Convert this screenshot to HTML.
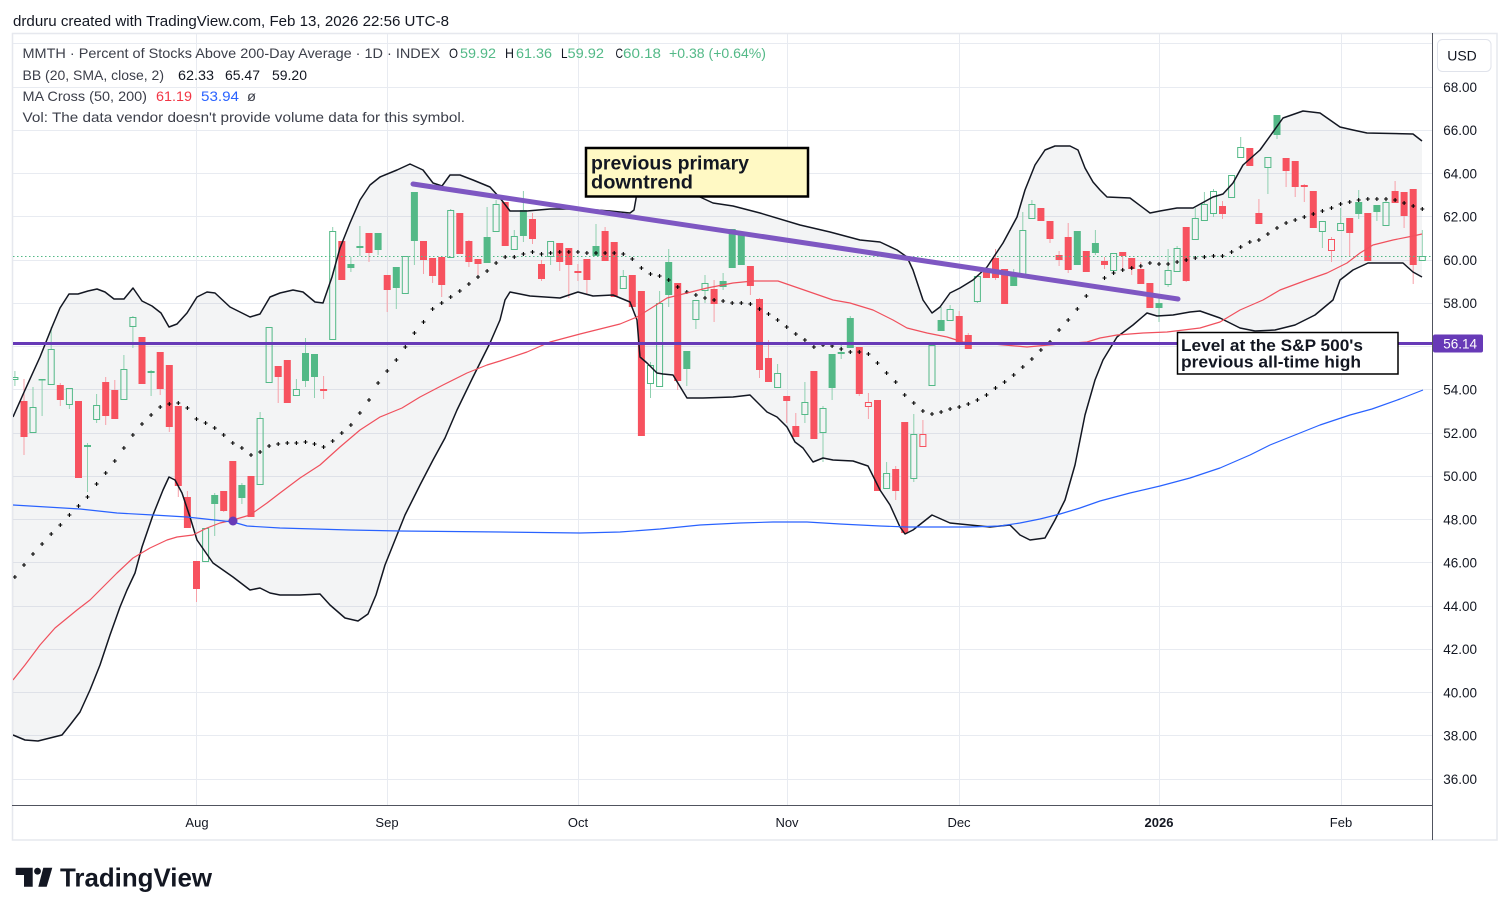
<!DOCTYPE html>
<html><head><meta charset="utf-8">
<style>
html,body{margin:0;padding:0;background:#fff;width:1510px;height:915px;overflow:hidden}
svg{display:block}
text{font-family:"Liberation Sans",Arial,sans-serif}
</style></head>
<body>
<svg width="1510" height="915" viewBox="0 0 1510 915" xmlns="http://www.w3.org/2000/svg">
<rect width="1510" height="915" fill="#fff"/>
<text x="13" y="26" font-size="15" fill="#131722" textLength="436" lengthAdjust="spacingAndGlyphs">drduru created with TradingView.com, Feb 13, 2026 22:56 UTC-8</text>
<rect x="12.5" y="33.5" width="1484.5" height="806.5" fill="none" stroke="#e6e8ee" stroke-width="1.5"/>
<defs><clipPath id="pc"><rect x="13" y="34" width="1419.5" height="771"/></clipPath></defs>
<g clip-path="url(#pc)">
<g stroke="#e8ebf1" stroke-width="1">
<path d="M13 43.5H1432M13 87.5H1432M13 130.5H1432M13 173.5H1432M13 216.5H1432M13 260.5H1432M13 303.5H1432M13 346.5H1432M13 389.5H1432M13 433.5H1432M13 476.5H1432M13 519.5H1432M13 562.5H1432M13 606.5H1432M13 649.5H1432M13 692.5H1432M13 735.5H1432M13 779.5H1432"/>
<path d="M196.5 34V805M387.5 34V805M578.5 34V805M787.5 34V805M959.5 34V805M1159.5 34V805M1341.5 34V805"/>
</g>
<path fill="rgba(120,123,134,0.085)" d="M13 417 L25 390 L40 357 L52 327 L60 308 L69 294 L78 294 L88 291 L97 289 L105 292 L114 299 L124 299 L133 288 L142 301 L152 306 L161 313 L169 327 L177 324 L187 313 L197 297 L207 292 L215 293 L230 307 L250 317 L260 314 L270 297 L280 293 L293 290 L303 292 L315 302 L323 303 L332 277 L340 248 L350 223 L360 200 L370 185 L380 177 L397 170 L410 164 L423 170 L433 183 L442 186 L450 175 L460 175 L473 180 L490 187 L500 198 L510 211 L527 211 L550 209 L583 209 L610 211 L630 213 L634 210 L637 193 L645 170 L660 160 L680 170 L700 197 L713 203 L733 206 L760 213 L800 225 L830 232 L860 240 L880 242 L897 250 L907 257 L913 270 L923 300 L932 313 L940 307 L950 293 L960 288 L973 280 L987 267 L1003 243 L1017 217 L1025 190 L1035 165 L1045 150 L1055 146 L1070 146 L1078 150 L1085 168 L1093 182 L1100 190 L1107 197 L1130 198 L1150 213 L1160 211 L1177 208 L1193 208 L1213 197 L1223 194 L1233 183 L1243 165 L1260 150 L1273 132 L1283 118 L1303 111 L1320 113 L1340 127 L1353 130 L1367 133 L1413 134 L1422 141 L1422 277 L1413 272 L1403 263 L1368 263 L1353 270 L1340 280 L1333 300 L1315 315 L1295 325 L1275 330 L1255 331 L1240 328 L1220 318 L1200 311 L1190 312 L1173 315 L1157 316 L1147 313 L1133 325 L1117 337 L1103 360 L1095 380 L1085 415 L1075 465 L1065 500 L1055 520 L1045 538 L1030 540 L1020 535 L1010 525 L990 527 L970 525 L950 523 L932 515 L913 530 L905 534 L900 527 L890 505 L880 490 L868 466 L853 461 L833 460 L823 458 L813 462 L803 448 L795 442 L787 427 L777 417 L767 412 L750 395 L733 397 L703 398 L687 398 L673 375 L663 374 L657 373 L647 363 L640 357 L637 320 L630 302 L613 295 L593 296 L578 292 L560 298 L530 296 L510 292 L505 300 L500 320 L490 343 L473 377 L457 410 L445 438 L433 460 L420 485 L405 515 L395 540 L385 565 L376 595 L368 614 L358 621 L345 618 L330 605 L320 594 L300 595 L280 595 L270 593 L260 588 L250 590 L233 577 L213 563 L197 540 L190 517 L182 493 L175 480 L169 477 L163 490 L153 515 L142 547 L135 573 L127 590 L120 607 L110 635 L100 665 L90 690 L80 712 L70 725 L62 735 L50 738 L38 741 L25 740 L13 735 Z"/>
<path fill="none" stroke="#f7a0a8" stroke-width="1" d="M24 379V455M60.3 383V406M78.5 401V478M105.7 377V425M114.8 380V419M142 337V384M160.2 352V395M169.3 365V432M178.3 406V497M187.4 491V528M196.5 561V602M223.7 491V512M232.8 461V519M251 476V517M278.2 366V403M287.3 360V403M341.8 241V280M369 233V262M387.2 275V312M423.5 241V274M432.6 258V283M441.7 257V297M459.8 213V254M468.9 240V267M478 259V278M505.2 202V246M532.5 213V244M541.5 260V281M559.7 243V271M568.8 248V298M586.9 259V294M605.1 227V261M614.2 242V297M632.3 275V307M641.4 291V436M677.7 283V390M714.1 280V322M750.4 266V295M759.5 298V378M768.5 340V382M786.7 396V423M795.8 413V437M813.9 371V439M859.3 347V396M877.5 400V491M895.7 466V500M904.7 422V533M959.2 311V342M968.3 333V349M986.5 269V278M995.5 249V280M1004.6 269V304M1040.9 208V221M1050 221V243M1059.1 251V266M1068.2 223V273M1086.3 251V272M1104.5 257V269M1122.7 252V270M1131.7 258V275M1140.8 262V284M1149.9 283V308M1186.2 227V282M1222.5 201V219M1249.8 148V166M1258.9 199V224M1286.1 158V187M1295.2 161V197M1304.3 184V202M1313.3 191V228M1349.7 218V257M1367.8 213V261M1395.1 181V203M1404.1 192V228M1413.2 189V284M323.6 376V389M323.6 391V399M577.9 264V271M577.9 273V281M868.4 393V402M868.4 407V419M922.9 420V434M1331.5 237V239M1331.5 251V262"/>
<path fill="none" stroke="#8fd0b0" stroke-width="1" d="M87.5 443V492M151.1 370V396M214.7 493V536M241.9 483V504M305.5 338V387M314.5 354V398M350.9 257V272M378.1 233V255M396.3 267V309M414.4 192V265M487.1 207V263M523.4 191V242M596 224V256M668.7 249V307M686.8 351V386M723.1 273V290M832.1 354V400M850.3 316V348M941.1 307V331M1013.7 269V286M1095.4 230V255M1159 298V322M1277 115V139M1358.7 190V219M1376.9 205V221M14.9 371V377M14.9 380V386M33 387V407M42.1 380V416M51.2 327V349M69.4 405V409M96.6 394V405M96.6 420V423M123.9 355V369M132.9 316V317M132.9 327V348M260.1 412V418M296.4 379V389M332.7 227V231M359.9 226V246M359.9 248V256M450.7 209V210M496.1 200V204M514.3 230V236M550.6 257V265M623.3 270V276M650.5 362V365M650.5 384V398M659.6 291V303M695.9 320V329M705 275V283M705 291V303M777.6 364V373M804.9 382V402M804.9 415V423M823 406V408M823 433V462M841.2 343V352M841.2 354V359M886.6 462V473M913.8 414V434M913.8 479V482M932 344V345M950.1 305V309M977.4 302V303M1022.8 212V230M1031.9 200V204M1168.1 249V270M1168.1 285V287M1177.1 246V248M1195.3 208V218M1204.4 192V204M1213.5 189V191M1213.5 214V217M1240.7 137V147M1267.9 168V194M1322.4 232V248M1340.6 208V223M1386 197V202M1422.3 230V256"/>
<path fill="#f7525f" d="M20.5 401h7v36h-7zM56.8 385h7v15h-7zM75 401h7v77h-7zM102.2 382h7v34h-7zM111.3 390h7v29h-7zM138.5 337h7v47h-7zM156.7 352h7v37h-7zM165.8 365h7v62h-7zM174.8 406h7v80h-7zM183.9 497h7v31h-7zM193 561h7v28h-7zM220.2 491h7v20h-7zM229.3 461h7v58h-7zM247.5 476h7v41h-7zM274.7 366h7v11h-7zM283.8 360h7v43h-7zM338.3 241h7v39h-7zM365.5 233h7v20h-7zM383.7 275h7v15h-7zM420 241h7v19h-7zM429.1 258h7v18h-7zM438.2 257h7v28h-7zM456.3 213h7v41h-7zM465.4 241h7v21h-7zM474.5 259h7v5h-7zM501.7 202h7v44h-7zM529 219h7v20h-7zM538 264h7v15h-7zM556.2 243h7v19h-7zM565.3 248h7v17h-7zM583.4 259h7v21h-7zM601.6 231h7v30h-7zM610.7 242h7v55h-7zM628.8 275h7v32h-7zM637.9 291h7v145h-7zM674.2 283h7v98h-7zM710.6 289h7v15h-7zM746.9 266h7v20h-7zM756 299h7v71h-7zM765 358h7v24h-7zM783.2 396h7v5h-7zM792.3 426h7v11h-7zM810.4 371h7v68h-7zM855.8 347h7v47h-7zM874 400h7v91h-7zM892.2 469h7v22h-7zM901.2 422h7v111h-7zM955.7 316h7v26h-7zM964.8 335h7v14h-7zM983 269h7v9h-7zM992 258h7v20h-7zM1001.1 269h7v35h-7zM1037.4 208h7v13h-7zM1046.5 221h7v18h-7zM1055.6 255h7v5h-7zM1064.7 237h7v33h-7zM1082.8 251h7v21h-7zM1101 261h7v4h-7zM1119.2 252h7v4h-7zM1128.2 258h7v11h-7zM1137.3 269h7v15h-7zM1146.4 283h7v25h-7zM1182.7 227h7v54h-7zM1219 206h7v8h-7zM1246.3 148h7v18h-7zM1255.4 213h7v11h-7zM1282.6 158h7v13h-7zM1291.7 161h7v26h-7zM1300.8 185h7v2h-7zM1309.8 191h7v37h-7zM1346.2 218h7v15h-7zM1364.3 213h7v48h-7zM1391.6 191h7v12h-7zM1400.6 192h7v24h-7zM1409.7 189h7v76h-7z"/>
<path fill="#53b987" d="M84 445h7v2h-7zM147.6 371h7v2h-7zM211.2 495h7v9h-7zM238.4 485h7v13h-7zM302 353h7v28h-7zM311 354h7v23h-7zM347.4 264h7v4h-7zM374.6 233h7v17h-7zM392.8 267h7v21h-7zM410.9 192h7v49h-7zM483.6 237h7v26h-7zM519.9 210h7v26h-7zM592.5 246h7v10h-7zM665.2 262h7v33h-7zM683.3 351h7v18h-7zM719.6 281h7v6h-7zM728.7 229h7v39h-7zM737.8 235h7v30h-7zM828.6 354h7v34h-7zM846.8 318h7v30h-7zM937.6 320h7v11h-7zM1010.2 276h7v10h-7zM1073.8 231h7v34h-7zM1091.9 243h7v10h-7zM1155.5 303h7v5h-7zM1273.5 115h7v20h-7zM1355.2 202h7v12h-7zM1373.4 205h7v7h-7zM38.6 379h7v1.5h-7z"/>
<path fill="none" stroke="#53b987" stroke-width="1" d="M11.9 377.5h6v2h-6zM30 407.5h6v25h-6zM48.2 349.5h6v35h-6zM66.4 388.5h6v16h-6zM93.6 405.5h6v14h-6zM120.9 369.5h6v30h-6zM129.9 317.5h6v9h-6zM202.6 528.5h6v33h-6zM257.1 418.5h6v66h-6zM266.1 327.5h6v55h-6zM293.4 389.5h6v6h-6zM329.7 231.5h6v108h-6zM356.9 246.5h6v1h-6zM402.3 256.5h6v37h-6zM447.7 210.5h6v47h-6zM493.1 204.5h6v27h-6zM511.3 236.5h6v13h-6zM547.6 241.5h6v15h-6zM620.3 276.5h6v12h-6zM647.5 365.5h6v18h-6zM656.6 303.5h6v83h-6zM692.9 300.5h6v19h-6zM702 283.5h6v7h-6zM774.6 373.5h6v14h-6zM801.9 402.5h6v12h-6zM820 408.5h6v24h-6zM838.2 352.5h6v1h-6zM883.6 473.5h6v15h-6zM910.8 434.5h6v44h-6zM929 345.5h6v40h-6zM947.1 309.5h6v11h-6zM974.4 276.5h6v25h-6zM1019.8 230.5h6v46h-6zM1028.9 204.5h6v14h-6zM1110.6 253.5h6v17h-6zM1165.1 270.5h6v14h-6zM1174.1 248.5h6v23h-6zM1192.3 218.5h6v21h-6zM1201.4 204.5h6v16h-6zM1210.5 191.5h6v22h-6zM1228.6 175.5h6v22h-6zM1237.7 147.5h6v10h-6zM1264.9 157.5h6v10h-6zM1319.4 221.5h6v10h-6zM1337.6 223.5h6v7h-6zM1383 202.5h6v23h-6zM1419.3 256.5h6v4h-6z"/>
<path fill="none" stroke="#f7525f" stroke-width="1" d="M320.6 389.5h6v1h-6zM574.9 271.5h6v1h-6zM865.4 402.5h6v4h-6zM919.9 434.5h6v12h-6zM1328.5 239.5h6v11h-6z"/>
<path d="M13 256.5H1432" stroke="#53b987" stroke-width="1" stroke-dasharray="1.5 2.5"/>
<path fill="none" stroke="#131722" stroke-width="1.5" stroke-linejoin="round" d="M13 417 L25 390 L40 357 L52 327 L60 308 L69 294 L78 294 L88 291 L97 289 L105 292 L114 299 L124 299 L133 288 L142 301 L152 306 L161 313 L169 327 L177 324 L187 313 L197 297 L207 292 L215 293 L230 307 L250 317 L260 314 L270 297 L280 293 L293 290 L303 292 L315 302 L323 303 L332 277 L340 248 L350 223 L360 200 L370 185 L380 177 L397 170 L410 164 L423 170 L433 183 L442 186 L450 175 L460 175 L473 180 L490 187 L500 198 L510 211 L527 211 L550 209 L583 209 L610 211 L630 213 L634 210 L637 193 L645 170 L660 160 L680 170 L700 197 L713 203 L733 206 L760 213 L800 225 L830 232 L860 240 L880 242 L897 250 L907 257 L913 270 L923 300 L932 313 L940 307 L950 293 L960 288 L973 280 L987 267 L1003 243 L1017 217 L1025 190 L1035 165 L1045 150 L1055 146 L1070 146 L1078 150 L1085 168 L1093 182 L1100 190 L1107 197 L1130 198 L1150 213 L1160 211 L1177 208 L1193 208 L1213 197 L1223 194 L1233 183 L1243 165 L1260 150 L1273 132 L1283 118 L1303 111 L1320 113 L1340 127 L1353 130 L1367 133 L1413 134 L1422 141"/>
<path fill="none" stroke="#131722" stroke-width="1.5" stroke-linejoin="round" d="M1422 277 L1413 272 L1403 263 L1368 263 L1353 270 L1340 280 L1333 300 L1315 315 L1295 325 L1275 330 L1255 331 L1240 328 L1220 318 L1200 311 L1190 312 L1173 315 L1157 316 L1147 313 L1133 325 L1117 337 L1103 360 L1095 380 L1085 415 L1075 465 L1065 500 L1055 520 L1045 538 L1030 540 L1020 535 L1010 525 L990 527 L970 525 L950 523 L932 515 L913 530 L905 534 L900 527 L890 505 L880 490 L868 466 L853 461 L833 460 L823 458 L813 462 L803 448 L795 442 L787 427 L777 417 L767 412 L750 395 L733 397 L703 398 L687 398 L673 375 L663 374 L657 373 L647 363 L640 357 L637 320 L630 302 L613 295 L593 296 L578 292 L560 298 L530 296 L510 292 L505 300 L500 320 L490 343 L473 377 L457 410 L445 438 L433 460 L420 485 L405 515 L395 540 L385 565 L376 595 L368 614 L358 621 L345 618 L330 605 L320 594 L300 595 L280 595 L270 593 L260 588 L250 590 L233 577 L213 563 L197 540 L190 517 L182 493 L175 480 L169 477 L163 490 L153 515 L142 547 L135 573 L127 590 L120 607 L110 635 L100 665 L90 690 L80 712 L70 725 L62 735 L50 738 L38 741 L25 740 L13 735"/>
<path fill="none" stroke="#000" stroke-width="1.1" d="M12.9 577h4m-2-2v4M22 565h4m-2-2v4M31 554h4m-2-2v4M40.1 544h4m-2-2v4M49.2 534h4m-2-2v4M58.3 525h4m-2-2v4M67.4 515h4m-2-2v4M76.5 506h4m-2-2v4M85.5 497h4m-2-2v4M94.6 484h4m-2-2v4M103.7 473h4m-2-2v4M112.8 461h4m-2-2v4M121.9 448h4m-2-2v4M130.9 435h4m-2-2v4M140 424h4m-2-2v4M149.1 415h4m-2-2v4M158.2 407h4m-2-2v4M167.3 404h4m-2-2v4M176.3 403h4m-2-2v4M185.4 408h4m-2-2v4M194.5 419h4m-2-2v4M203.6 423h4m-2-2v4M212.7 428h4m-2-2v4M221.7 435h4m-2-2v4M230.8 443h4m-2-2v4M239.9 448h4m-2-2v4M249 455h4m-2-2v4M258.1 452h4m-2-2v4M267.1 446h4m-2-2v4M276.2 444h4m-2-2v4M285.3 443h4m-2-2v4M294.4 443h4m-2-2v4M303.5 442h4m-2-2v4M312.5 444h4m-2-2v4M321.6 447h4m-2-2v4M330.7 441h4m-2-2v4M339.8 433h4m-2-2v4M348.9 425h4m-2-2v4M357.9 413h4m-2-2v4M367 400h4m-2-2v4M376.1 383h4m-2-2v4M385.2 371h4m-2-2v4M394.3 360h4m-2-2v4M403.3 347h4m-2-2v4M412.4 333h4m-2-2v4M421.5 322h4m-2-2v4M430.6 309h4m-2-2v4M439.7 303h4m-2-2v4M448.7 297h4m-2-2v4M457.8 291h4m-2-2v4M466.9 284h4m-2-2v4M476 277h4m-2-2v4M485.1 271h4m-2-2v4M494.1 263h4m-2-2v4M503.2 257h4m-2-2v4M512.3 257h4m-2-2v4M521.4 254h4m-2-2v4M530.5 252h4m-2-2v4M539.5 254h4m-2-2v4M548.6 253h4m-2-2v4M557.7 252h4m-2-2v4M566.8 252h4m-2-2v4M575.9 252h4m-2-2v4M584.9 253h4m-2-2v4M594 253h4m-2-2v4M603.1 253h4m-2-2v4M612.2 253h4m-2-2v4M621.3 254h4m-2-2v4M630.3 259h4m-2-2v4M639.4 268h4m-2-2v4M648.5 274h4m-2-2v4M657.6 276h4m-2-2v4M666.7 280h4m-2-2v4M675.7 287h4m-2-2v4M684.8 292h4m-2-2v4M693.9 295h4m-2-2v4M703 298h4m-2-2v4M712.1 300h4m-2-2v4M721.1 301h4m-2-2v4M730.2 303h4m-2-2v4M739.3 303h4m-2-2v4M748.4 304h4m-2-2v4M757.5 309h4m-2-2v4M766.5 314h4m-2-2v4M775.6 320h4m-2-2v4M784.7 327h4m-2-2v4M793.8 334h4m-2-2v4M802.9 340h4m-2-2v4M811.9 347h4m-2-2v4M821 345h4m-2-2v4M830.1 346h4m-2-2v4M839.2 349h4m-2-2v4M848.3 352h4m-2-2v4M857.3 352h4m-2-2v4M866.4 354h4m-2-2v4M875.5 363h4m-2-2v4M884.6 373h4m-2-2v4M893.7 382h4m-2-2v4M902.7 395h4m-2-2v4M911.8 403h4m-2-2v4M920.9 411h4m-2-2v4M930 414h4m-2-2v4M939.1 412h4m-2-2v4M948.1 409h4m-2-2v4M957.2 407h4m-2-2v4M966.3 404h4m-2-2v4M975.4 400h4m-2-2v4M984.5 395h4m-2-2v4M993.5 388h4m-2-2v4M1002.6 382h4m-2-2v4M1011.7 375h4m-2-2v4M1020.8 367h4m-2-2v4M1029.9 359h4m-2-2v4M1038.9 350h4m-2-2v4M1048 342h4m-2-2v4M1057.1 330h4m-2-2v4M1066.2 320h4m-2-2v4M1075.3 309h4m-2-2v4M1084.3 296h4m-2-2v4M1093.4 287h4m-2-2v4M1102.5 278h4m-2-2v4M1111.6 273h4m-2-2v4M1120.7 270h4m-2-2v4M1129.7 268h4m-2-2v4M1138.8 266h4m-2-2v4M1147.9 263h4m-2-2v4M1157 264h4m-2-2v4M1166.1 264h4m-2-2v4M1175.1 262h4m-2-2v4M1184.2 260h4m-2-2v4M1193.3 258h4m-2-2v4M1202.4 257h4m-2-2v4M1211.5 256h4m-2-2v4M1220.5 256h4m-2-2v4M1229.6 252h4m-2-2v4M1238.7 247h4m-2-2v4M1247.8 242h4m-2-2v4M1256.9 240h4m-2-2v4M1265.9 234h4m-2-2v4M1275 228h4m-2-2v4M1284.1 223h4m-2-2v4M1293.2 220h4m-2-2v4M1302.3 217h4m-2-2v4M1311.3 214h4m-2-2v4M1320.4 211h4m-2-2v4M1329.5 208h4m-2-2v4M1338.6 204h4m-2-2v4M1347.7 202h4m-2-2v4M1356.7 200h4m-2-2v4M1365.8 199h4m-2-2v4M1374.9 199h4m-2-2v4M1384 199h4m-2-2v4M1393.1 200h4m-2-2v4M1402.1 203h4m-2-2v4M1411.2 206h4m-2-2v4M1420.3 209h4m-2-2v4"/>
<path fill="none" stroke="#f0505d" stroke-width="1.2" stroke-linejoin="round" d="M13 680 L25 665 L40 645 L55 628 L77 610 L90 600 L105 585 L117 573 L133 558 L150 548 L167 540 L177 537 L193 535 L207 528 L220 523 L233 520 L250 515 L267 503 L280 493 L300 478 L320 465 L340 447 L360 430 L380 417 L402 408 L420 397 L443 385 L467 373 L487 365 L500 361 L527 352 L550 342 L580 334 L600 329 L620 324 L637 317 L653 307 L667 298 L687 293 L707 288 L733 283 L753 281 L778 281 L807 291 L833 300 L850 303 L873 310 L893 320 L907 328 L927 333 L947 337 L963 342 L993 344 L1027 347 L1060 344 L1087 342 L1100 338 L1117 335 L1143 333 L1167 332 L1200 328 L1220 322 L1240 310 L1263 300 L1280 290 L1307 280 L1327 273 L1347 263 L1360 253 L1373 245 L1393 240 L1413 236 L1422 234"/>
<path fill="none" stroke="#2962ff" stroke-width="1.2" stroke-linejoin="round" d="M13 505 L80 509 L117 513 L153 515 L187 517 L233 522 L247 526 L280 528 L350 530 L400 531 L500 532 L580 533 L620 532 L660 529 L700 525 L740 523 L773 522 L807 522 L840 524 L880 526 L907 527 L970 527 L1000 526 L1020 523 L1040 519 L1060 514 L1080 508 L1100 501 L1130 493 L1160 486 L1190 478 L1220 468 L1250 455 L1270 445 L1290 437 L1320 425 L1350 415 L1372 409 L1400 399 L1423 390"/>
<circle cx="233" cy="521" r="4.5" fill="#673ab7"/>
<path d="M13 343.5H1432" stroke="#673ab7" stroke-width="3"/>
<path d="M413 184L1178 299" stroke="#7e57c2" stroke-width="5" stroke-linecap="round"/>
</g>
<rect x="586" y="148" width="222" height="48.5" fill="#fff9c4" stroke="#000" stroke-width="2.5"/>
<text x="591" y="169.5" font-size="19.5" font-weight="bold" fill="#131722" textLength="158" lengthAdjust="spacingAndGlyphs">previous primary</text>
<text x="591" y="188.5" font-size="19.5" font-weight="bold" fill="#131722" textLength="102" lengthAdjust="spacingAndGlyphs">downtrend</text>
<rect x="1177.5" y="332.5" width="220.5" height="41.5" fill="#fff" stroke="#000" stroke-width="1.5"/>
<text x="1181" y="351" font-size="17" font-weight="bold" fill="#131722" textLength="182" lengthAdjust="spacingAndGlyphs">Level at the S&amp;P 500's</text>
<text x="1181" y="367.5" font-size="17" font-weight="bold" fill="#131722" textLength="180" lengthAdjust="spacingAndGlyphs">previous all-time high</text>
<path d="M12 805.5H1432.5" stroke="#50535e" stroke-width="1"/>
<path d="M1432.5 33V840" stroke="#50535e" stroke-width="1"/>
<g font-size="13.5" fill="#131722" text-anchor="end">
<text x="1477" y="92">68.00</text>
<text x="1477" y="135">66.00</text>
<text x="1477" y="178.5">64.00</text>
<text x="1477" y="221.5">62.00</text>
<text x="1477" y="265">60.00</text>
<text x="1477" y="308">58.00</text>
<text x="1477" y="394.5">54.00</text>
<text x="1477" y="438">52.00</text>
<text x="1477" y="481">50.00</text>
<text x="1477" y="524.5">48.00</text>
<text x="1477" y="567.5">46.00</text>
<text x="1477" y="611">44.00</text>
<text x="1477" y="654">42.00</text>
<text x="1477" y="697.5">40.00</text>
<text x="1477" y="740.5">38.00</text>
<text x="1477" y="784">36.00</text>
</g>
<rect x="1433" y="334.5" width="50" height="18" rx="2" fill="#673ab7"/>
<text x="1477" y="348.5" font-size="13.5" fill="#fff" text-anchor="end">56.14</text>
<rect x="1437.5" y="39.5" width="53.5" height="32" rx="5" fill="#fff" stroke="#e0e3eb" stroke-width="1"/>
<text x="1462" y="60.5" font-size="14" fill="#131722" text-anchor="middle">USD</text>
<g font-size="13" fill="#131722" text-anchor="middle">
<text x="197" y="827">Aug</text>
<text x="387" y="827">Sep</text>
<text x="578" y="827">Oct</text>
<text x="787" y="827">Nov</text>
<text x="959" y="827">Dec</text>
<text x="1159" y="827" font-weight="bold">2026</text>
<text x="1341" y="827">Feb</text>
</g>
<g font-size="14">
<text x="22.5" y="58" fill="#3c3f4a" textLength="417.5" lengthAdjust="spacingAndGlyphs">MMTH · Percent of Stocks Above 200-Day Average · 1D · INDEX</text>
<text x="449" y="58" fill="#131722" textLength="9" lengthAdjust="spacingAndGlyphs">O</text>
<text x="460" y="58" fill="#53b987" textLength="36" lengthAdjust="spacingAndGlyphs">59.92</text>
<text x="505" y="58" fill="#131722" textLength="9" lengthAdjust="spacingAndGlyphs">H</text>
<text x="516" y="58" fill="#53b987" textLength="36" lengthAdjust="spacingAndGlyphs">61.36</text>
<text x="561" y="58" fill="#131722" textLength="6.5" lengthAdjust="spacingAndGlyphs">L</text>
<text x="567.5" y="58" fill="#53b987" textLength="36.5" lengthAdjust="spacingAndGlyphs">59.92</text>
<text x="615.5" y="58" fill="#131722" textLength="7.5" lengthAdjust="spacingAndGlyphs">C</text>
<text x="623" y="58" fill="#53b987" textLength="38" lengthAdjust="spacingAndGlyphs">60.18</text>
<text x="669" y="58" fill="#53b987" textLength="97" lengthAdjust="spacingAndGlyphs">+0.38 (+0.64%)</text>
<text x="22.5" y="80" fill="#3c3f4a" textLength="141.5" lengthAdjust="spacingAndGlyphs">BB (20, SMA, close, 2)</text>
<text x="178" y="80" fill="#131722" textLength="36" lengthAdjust="spacingAndGlyphs">62.33</text>
<text x="225" y="80" fill="#131722" textLength="35" lengthAdjust="spacingAndGlyphs">65.47</text>
<text x="272" y="80" fill="#131722" textLength="35" lengthAdjust="spacingAndGlyphs">59.20</text>
<text x="22.5" y="101" fill="#3c3f4a" textLength="124.5" lengthAdjust="spacingAndGlyphs">MA Cross (50, 200)</text>
<text x="156" y="101" fill="#f23645" textLength="36" lengthAdjust="spacingAndGlyphs">61.19</text>
<text x="201" y="101" fill="#2962ff" textLength="38" lengthAdjust="spacingAndGlyphs">53.94</text>
<text x="247" y="101" fill="#3c3f4a" textLength="9" lengthAdjust="spacingAndGlyphs">ø</text>
<text x="22.5" y="122" fill="#3c3f4a" textLength="442.5" lengthAdjust="spacingAndGlyphs">Vol: The data vendor doesn't provide volume data for this symbol.</text>
</g>
<g fill="#131722">
<path d="M15.7 867.7H32.7V886.7H24V875H15.7Z"/>
<circle cx="37.5" cy="871.2" r="3.4"/>
<path d="M43.3 867.7H52.3L46.7 886.7H38.3Z"/>
<text x="60" y="886.7" font-size="26" font-weight="bold" textLength="152" lengthAdjust="spacingAndGlyphs">TradingView</text>
</g>
</svg>
</body></html>
